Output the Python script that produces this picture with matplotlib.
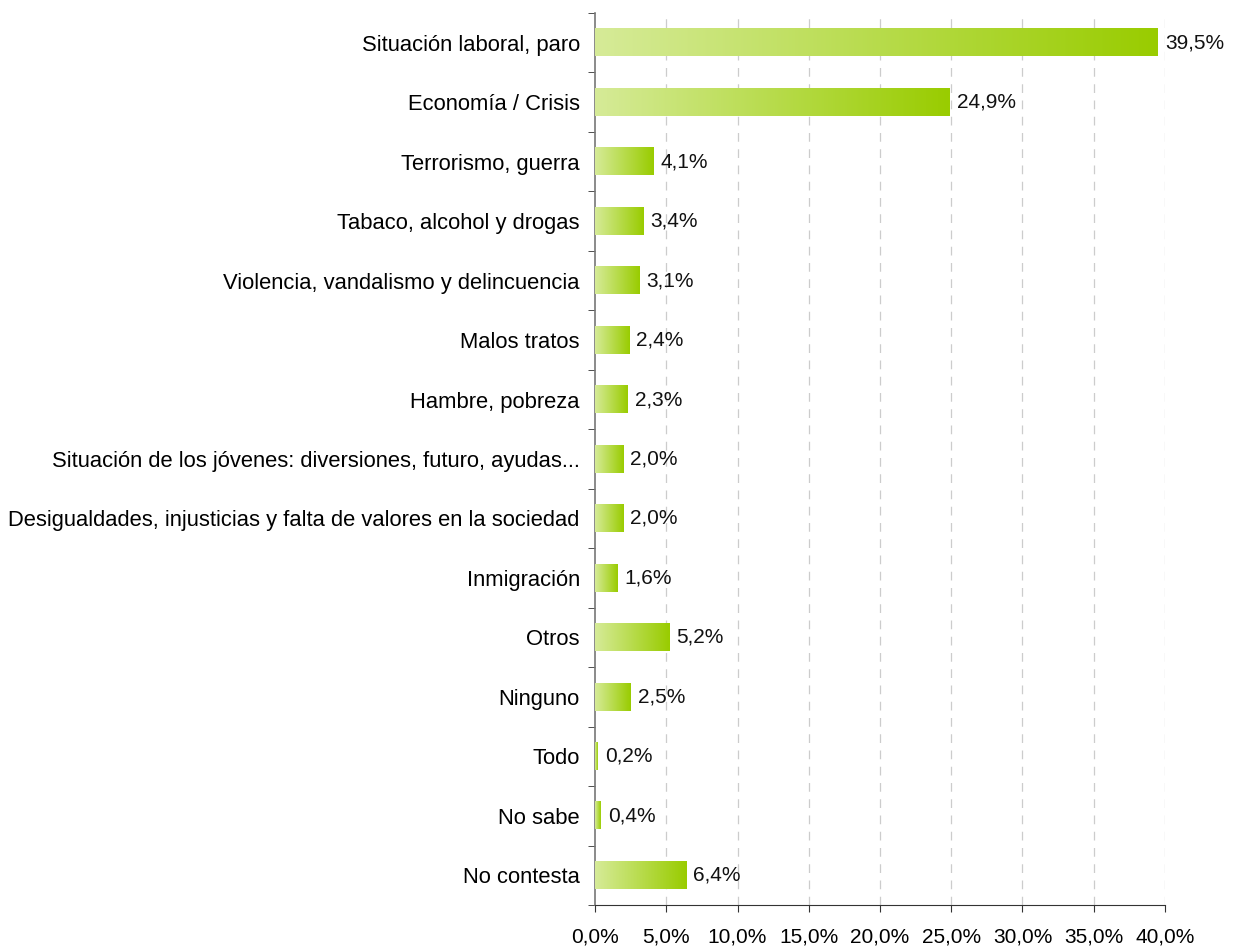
import matplotlib.pyplot as plt
import numpy as np
from matplotlib.colors import LinearSegmentedColormap

categories = [
    'Situación laboral, paro',
    'Economía / Crisis',
    'Terrorismo, guerra',
    'Tabaco, alcohol y drogas',
    'Violencia, vandalismo y delincuencia',
    'Malos tratos',
    'Hambre, pobreza',
    'Situación de los jóvenes: diversiones, futuro, ayudas...',
    'Desigualdades, injusticias y falta de valores en la sociedad',
    'Inmigración',
    'Otros',
    'Ninguno',
    'Todo',
    'No sabe',
    'No contesta',
]
values = [39.5, 24.9, 4.1, 3.4, 3.1, 2.4, 2.3, 2.0, 2.0, 1.6, 5.2, 2.5, 0.2, 0.4, 6.4]
xticks = [0, 5, 10, 15, 20, 25, 30, 35, 40]

plt.rcParams['font.family'] = ['Liberation Sans', 'DejaVu Sans']

fig = plt.figure(figsize=(12.33, 9.5), dpi=100)
ax = fig.add_axes([0.4826, 0.0474, 0.4622, 0.9389])

cmap = LinearSegmentedColormap.from_list('g', ['#d6eb98', '#99cc00'])
grad = np.linspace(0, 1, 256).reshape(1, -1)

n = len(categories)
ypos = np.arange(n)
bar_h = 0.46
bars = ax.barh(ypos, values, height=bar_h, color='none', edgecolor='none', zorder=3)
for b, v in zip(bars, values):
    x0, y0 = b.get_x(), b.get_y()
    ax.imshow(grad, cmap=cmap, aspect='auto', extent=(x0, x0 + b.get_width(), y0 + bar_h, y0),
              zorder=3, interpolation='bicubic')
    ax.annotate(f'{v:.1f}%'.replace('.', ','), (v, b.get_y() + bar_h / 2),
                xytext=(5, 0), textcoords='offset points',
                va='center', ha='left', fontsize=15, color='#111111', zorder=4)

ax.set_xlim(0, 40)
ax.set_ylim(n - 0.5, -0.5)
ax.set_xticks(xticks)
ax.set_xticklabels([f'{t:.1f}%'.replace('.', ',') for t in xticks], fontsize=15)
ax.set_yticks(ypos)
ax.set_yticklabels(categories, fontsize=15.8)
ax.tick_params(axis='y', which='major', length=0, pad=11)
ax.set_yticks(np.arange(-0.5, n, 1), minor=True)
ax.tick_params(axis='y', which='minor', length=5, direction='out', color='#333333')
ax.tick_params(axis='x', length=5, direction='out', color='#333333', pad=11)

for t in xticks[1:]:
    ax.axvline(t, color='#cccccc', linestyle=(0, (7, 6)), linewidth=0.9, zorder=1)

for s in ['top', 'right']:
    ax.spines[s].set_visible(False)
ax.spines['left'].set_color('#777777')
ax.spines['left'].set_linewidth(1.2)
ax.spines['bottom'].set_color('#333333')

fig.savefig('out.png', dpi=100)
